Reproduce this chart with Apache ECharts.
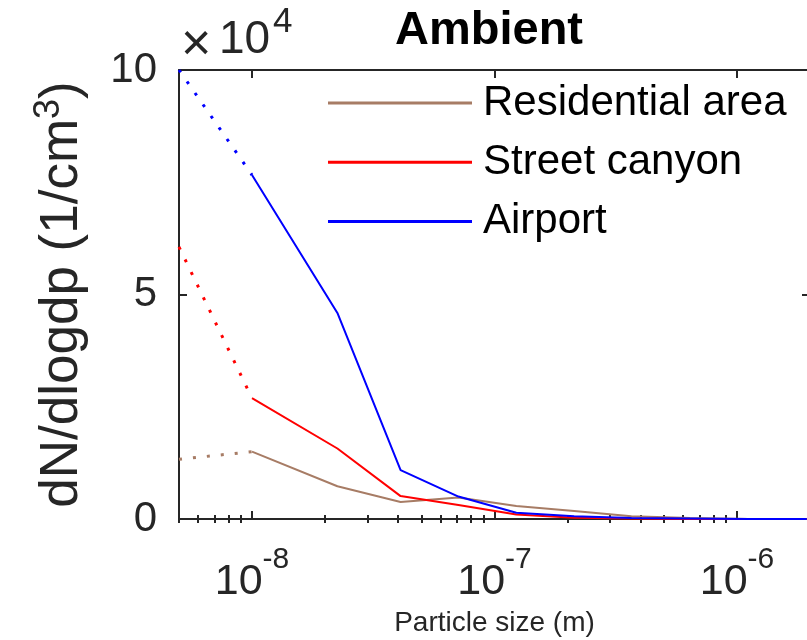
<!DOCTYPE html>
<html>
<head>
<meta charset="utf-8">
<script src="https://cdn.jsdelivr.net/npm/echarts@6/dist/echarts.min.js"></script>
<style>html,body{margin:0;padding:0;background:#fff}#c{width:807px;height:640px}</style>
</head>
<body>
<div id="c"></div>
<script>
// Particle size bins (m)
const sizes = [1e-8, 2.25e-8, 4.1e-8, 7.1e-8, 1.23e-7, 2.13e-7, 3.67e-7, 6.4e-7, 1.12e-6, 1.94e-6];
// dN/dlogdp in units of 1e4 1/cm^3
const residential = [1.50, 0.73, 0.38, 0.48, 0.29, 0.18, 0.06, 0.02, 0.0, 0.0];
const street      = [2.69, 1.57, 0.51, 0.31, 0.10, 0.03, 0.01, 0.0, 0.0, 0.0];
const airport     = [7.66, 4.59, 1.09, 0.50, 0.14, 0.06, 0.02, 0.01, 0.0, 0.0];
// extrapolated start (dotted) at the left edge
const startSize = 5e-9;
const startResidential = 1.33;
const startStreet = 6.06;
const startAirport = 10.0;

const names = ['Residential area', 'Street canyon', 'Airport'];
const colors = ['#a77c65', '#ff0000', '#0000ff'];
const majorTicks = [1e-8, 1e-7, 1e-6];
const yTicks = [0, 5, 10];

const minorTicks = [];
for (let e = -9; e <= -6; e++) {
  for (let m = 2; m <= 9; m++) {
    const v = m * Math.pow(10, e);
    if (v >= 5e-9 && v <= 2e-6) minorTicks.push(v);
  }
}

const axisColor = '#262626';
const font = 'Liberation Sans, Arial, Helvetica, sans-serif';

function pairs(xs, ys) { return xs.map((x, i) => [x, ys[i]]); }

const solidData = [residential, street, airport];
const startVals = [startResidential, startStreet, startAirport];

const series = [];
solidData.forEach((d, i) => {
  series.push({
    name: names[i], type: 'line', xAxisIndex: 0, yAxisIndex: 0,
    data: pairs(sizes, d), symbol: 'none', clip: true,
    lineStyle: { color: colors[i], width: 2 }, itemStyle: { color: colors[i] },
    z: 3 + i
  });
  series.push({
    name: names[i] + ' (extrapolated)', type: 'line', xAxisIndex: 0, yAxisIndex: 0,
    data: [[startSize, startVals[i]], [sizes[0], d[0]]], symbol: 'none', clip: true,
    lineStyle: { color: colors[i], width: 3, type: [3, 11], cap: 'butt' },
    z: 3 + i
  });
});

const xMin = 5e-9, xMax = 2e-6;
const xBase = {
  type: 'log', logBase: 10, min: xMin, max: xMax, gridIndex: 0,
  splitLine: { show: false }, minorTick: { show: false }, minorSplitLine: { show: false }
};

const chart = echarts.init(document.getElementById('c'), null, { renderer: 'canvas' });
chart.setOption({
  animation: false,
  backgroundColor: '#fff',
  textStyle: { fontFamily: font },
  title: {
    text: 'Ambient', left: 390, top: 3,
    textStyle: { fontFamily: font, fontSize: 47, fontWeight: 'bold', color: '#000' }
  },
  grid: { left: 179, top: 70, width: 631, height: 449, containLabel: false, outerBoundsMode: 'none' },
  legend: {
    data: names, orient: 'vertical', left: 328, top: 79, padding: 0,
    itemWidth: 144, itemHeight: 3, itemGap: 11.3,
    icon: 'rect',
    textStyle: { fontFamily: font, fontSize: 42, color: '#000', lineHeight: 48, padding: [0, 0, 0, 6] },
    selectedMode: false
  },
  xAxis: [
    Object.assign({}, xBase, {
      position: 'bottom',
      axisLine: { show: true, onZero: false, lineStyle: { color: axisColor, width: 2 } },
      axisTick: { show: true, inside: true, length: 8, customValues: majorTicks, lineStyle: { color: axisColor, width: 2 } },
      axisLabel: {
        show: true, customValues: majorTicks, margin: 26,
        formatter: v => '{b|10}{s|' + Math.round(Math.log10(v)) + '}',
        rich: {
          b: { fontFamily: font, fontSize: 43, color: '#262626', lineHeight: 59, verticalAlign: 'bottom' },
          s: { fontFamily: font, fontSize: 30, color: '#262626', lineHeight: 30, verticalAlign: 'top' }
        }
      },
      name: 'Particle size (m)', nameLocation: 'middle', nameGap: 90,
      nameTextStyle: { fontFamily: font, fontSize: 28, color: '#262626' }
    }),
    Object.assign({}, xBase, {
      position: 'bottom',
      axisLine: { show: false },
      axisTick: { show: true, inside: true, length: 4, customValues: minorTicks, lineStyle: { color: axisColor, width: 2 } },
      axisLabel: { show: false }
    }),
    Object.assign({}, xBase, {
      position: 'top',
      axisLine: { show: true, onZero: false, lineStyle: { color: axisColor, width: 2 } },
      axisTick: { show: true, inside: true, length: 8, customValues: majorTicks, lineStyle: { color: axisColor, width: 2 } },
      axisLabel: { show: false }
    }),
    Object.assign({}, xBase, {
      position: 'top',
      axisLine: { show: false },
      axisTick: { show: true, inside: true, length: 4, customValues: minorTicks, lineStyle: { color: axisColor, width: 2 } },
      axisLabel: { show: false }
    })
  ],
  yAxis: [
    {
      type: 'value', position: 'left', min: 0, max: 10, interval: 5,
      splitLine: { show: false },
      axisLine: { show: true, onZero: false, lineStyle: { color: axisColor, width: 2 } },
      axisTick: { show: true, inside: true, length: 8, lineStyle: { color: axisColor, width: 2 } },
      axisLabel: { show: true, margin: 22, fontFamily: font, fontSize: 42, color: '#262626' },
      name: '{m|dN/dlogdp (1/cm}{s|3}{m|)}', nameLocation: 'middle', nameGap: 90,
      nameTextStyle: {
        fontFamily: font, fontSize: 53, color: '#262626',
        rich: {
          m: { fontFamily: font, fontSize: 53, color: '#262626', lineHeight: 58, verticalAlign: 'bottom' },
          s: { fontFamily: font, fontSize: 36, color: '#262626', lineHeight: 36, verticalAlign: 'top' }
        }
      }
    },
    {
      type: 'value', position: 'right', min: 0, max: 10, interval: 5,
      splitLine: { show: false },
      axisLine: { show: true, onZero: false, lineStyle: { color: axisColor, width: 2 } },
      axisTick: { show: true, inside: true, length: 8, lineStyle: { color: axisColor, width: 2 } },
      axisLabel: { show: false }
    }
  ],
  graphic: [
    { type: 'text', x: 181, y: 20, style: { text: '×', fontFamily: font, fontSize: 52, fill: '#262626', verticalAlign: 'top' } },
    { type: 'text', x: 219, y: 17, style: { text: '10', fontFamily: font, fontSize: 46, fill: '#262626', verticalAlign: 'top' } },
    { type: 'text', x: 273, y: 5, style: { text: '4', fontFamily: font, fontSize: 35, fill: '#262626', verticalAlign: 'top' } }
  ],
  series: series
});
</script>
</body>
</html>
